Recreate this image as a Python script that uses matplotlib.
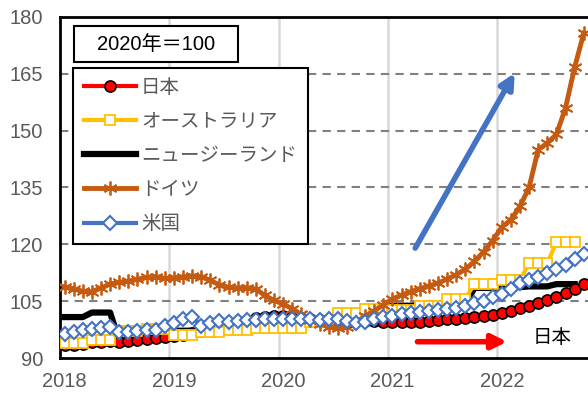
import numpy as np
import matplotlib
matplotlib.use("Agg")
import matplotlib.pyplot as plt
from matplotlib.patches import Rectangle

plt.rcParams['font.family'] = ['Liberation Sans', 'Noto Sans CJK JP', 'DejaVu Sans']

# monthly series, Jan 2018 .. Oct 2022
japan = [93.5, 93.5, 93.6, 94.3, 94.3, 94.4, 94.3, 94.5, 94.8, 95.0, 95.3, 95.5,
         95.8, 96.2, 96.5, 97.0, 97.5, 98.0, 98.5, 99.0, 99.7, 100.5, 100.8, 101.0,
         101.0, 100.8, 100.5, 100.2, 100.0, 99.8, 99.8, 99.9, 100.0, 99.8, 99.7, 99.6,
         99.6, 99.5, 99.5, 99.6, 99.7, 99.9, 100.2, 100.4, 100.6, 100.9, 101.1, 101.4,
         101.9, 102.3, 103.2, 103.8, 104.6, 105.4, 106.2, 107.1, 108.2, 109.5]

germany = [108.8, 108.3, 107.6, 107.5, 108.5, 109.5, 110.0, 110.3, 110.8, 111.3, 111.5, 111.0,
           111.2, 111.4, 111.7, 111.5, 110.5, 109.3, 108.7, 108.5, 108.6, 108.2, 106.5, 105.2,
           104.2, 103.0, 101.5, 100.0, 99.0, 98.2, 97.8, 98.3, 99.5, 101.0, 102.5, 104.0,
           105.6, 106.6, 107.5, 108.3, 109.0, 109.8, 110.8, 112.0, 113.4, 115.5, 118.0, 121.0,
           124.5, 126.5, 130.0, 135.0, 145.0, 146.7, 149.0, 156.0, 166.7, 175.7]

usa = [96.3, 96.9, 97.4, 97.6, 97.9, 98.2, 96.9, 96.9, 97.2, 97.4, 97.4, 98.5,
       99.3, 100.2, 100.9, 98.4, 99.3, 99.8, 99.6, 99.8, 100.0, 100.0, 100.2, 100.4,
       100.3, 100.4, 100.3, 100.2, 100.1, 100.2, 100.3, 99.8, 99.2, 99.6, 100.3, 100.8,
       101.2, 101.6, 102.0, 102.2, 102.4, 102.6, 102.9, 103.3, 103.8, 104.4, 105.1, 106.0,
       107.0, 108.2, 109.8, 110.6, 111.5, 112.5, 113.5, 114.5, 116.0, 117.5]

# quarterly series, 2018Q1 .. 2022Q3 (held for each month of the quarter)
australia_q = [93.9, 94.7, 97.0, 97.7, 96.0, 96.8, 97.4, 97.9, 97.8, 99.5,
               101.8, 103.0, 102.8, 103.6, 105.7, 109.5, 110.5, 115.0, 120.6]
nz_q = [100.8, 102.0, 94.5, 95.3, 97.2, 96.6, 98.0, 100.8, 100.4, 99.2,
        98.8, 103.3, 103.8, 104.0, 104.2, 108.5, 108.7, 108.9, 109.5]

labels = ['日本', 'オーストラリア', 'ニュージーランド', 'ドイツ', '米国']
years = [2018, 2019, 2020, 2021, 2022]

n = len(japan)
x = 2018 + (np.arange(n) + 0.5) / 12
australia = np.full(n, np.nan)
australia[:3 * len(australia_q)] = np.repeat(australia_q, 3)
nz = np.full(n, np.nan)
nz[:3 * len(nz_q)] = np.repeat(nz_q, 3)

fig = plt.figure(figsize=(5.88, 3.95), dpi=100)
ax = fig.add_axes([60 / 588, 37 / 395, 528 / 588, 341 / 395])

ax.plot(x, japan, color='#FF0000', lw=3, marker='o', ms=8, mfc='#FF0000',
        mec='black', mew=1.2, zorder=3, label=labels[0])
ax.plot(x, australia, color='#FFC000', lw=3, marker='s', ms=7.5, mfc='white',
        mec='#FFC000', mew=1.3, zorder=4, label=labels[1])
ax.plot(x, nz, color='black', lw=4.5, zorder=2, label=labels[2])
ax.plot(x, germany, color='#C55A11', lw=3.5, marker=(6, 2, 0), ms=10,
        mec='#C55A11', mew=1.3, zorder=5, label=labels[3])
ax.plot(x, usa, color='#4472C4', lw=3, marker='D', ms=7, mfc='white',
        mec='#4472C4', mew=1.5, zorder=6, label=labels[4])

ax.set_xlim(2018, 2018 + 528 / 109.3)
ax.set_ylim(90, 180)
ax.set_yticks(np.arange(90, 181, 15))
# year labels sit at mid-January
ax.set_xticks([y + 0.5 / 12 for y in years])
ax.set_xticklabels([str(y) for y in years])
ax.tick_params(length=0, labelsize=14.5, colors='#595959')
ax.tick_params(axis='y', pad=12)
ax.tick_params(axis='x', pad=10)

for v in np.arange(105, 180, 15):
    ax.axhline(v, color='#808080', lw=1.5, ls=(0, (4, 3)), zorder=1)
for yr in years[1:]:
    ax.axvline(yr, color='#D9D9D9', lw=1.8, zorder=0.5)

for side in ['left', 'bottom', 'top']:
    ax.spines[side].set_linewidth(2)
    ax.spines[side].set_color('black')
ax.spines['right'].set_visible(False)

# arrows and note
ax.annotate('', xy=(2022.16, 165.2), xytext=(2021.25, 119),
            arrowprops=dict(arrowstyle='-|>', lw=4, color='#4472C4',
                            mutation_scale=22, shrinkA=0, shrinkB=0), zorder=7)
ax.annotate('', xy=(2022.09, 94.3), xytext=(2021.27, 94.3),
            arrowprops=dict(arrowstyle='-|>', lw=4, color='#FF0000',
                            mutation_scale=22, shrinkA=0, shrinkB=0), zorder=7)
ax.text(2022.5, 95.2, '日本', fontsize=14, color='black', ha='center', va='center')

# base-year box
fig.patches.append(Rectangle((74 / 588, 1 - 62 / 395), 164 / 588, 36 / 395,
                             transform=fig.transFigure, fill=True, fc='white',
                             ec='black', lw=1.5, zorder=10))
fig.text(156 / 588, 1 - 44 / 395, '2020年＝100', fontsize=14.5, ha='center',
         va='center', color='black', zorder=11)

leg = ax.legend(loc='upper left', bbox_to_anchor=(73 / 588, 1 - 68 / 395),
                bbox_transform=fig.transFigure, fontsize=14, frameon=True,
                fancybox=False, edgecolor='black', framealpha=1,
                handlelength=2.7, labelspacing=0.85, borderpad=0.55,
                borderaxespad=0, handletextpad=0.25)
leg.get_frame().set_linewidth(1.5)
for t in leg.get_texts():
    t.set_color('#595959')
leg.set_zorder(10)

fig.savefig('out.png', dpi=100)
